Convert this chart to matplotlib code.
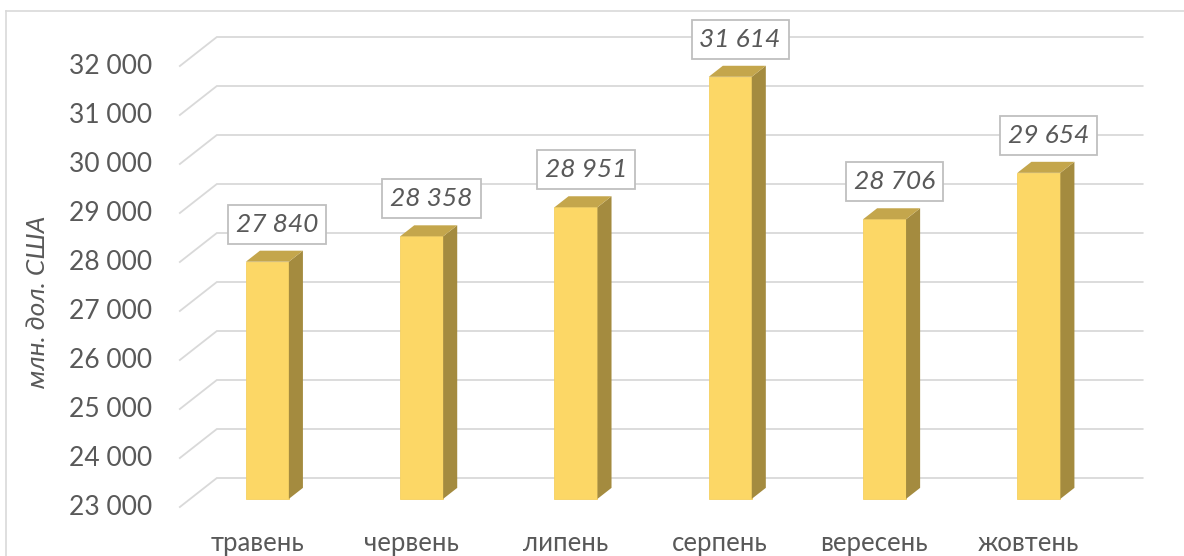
import matplotlib.pyplot as plt
from matplotlib.patches import Polygon
from matplotlib.lines import Line2D

# дані
months = ['травень', 'червень', 'липень', 'серпень', 'вересень', 'жовтень']
values = [27840, 28358, 28951, 31614, 28706, 29654]
y_ticks = [23000, 24000, 25000, 26000, 27000, 28000, 29000, 30000, 31000, 32000]
y_label = 'млн. дол. США'

plt.rcParams['font.family'] = ['Lato', 'Open Sans', 'DejaVu Sans']

fig = plt.figure(figsize=(11.84, 5.56), dpi=100)
ax = fig.add_axes([0, 0, 1, 1])
ax.set_xlim(-1.6656, 6.0078)
ax.set_ylim(22000, 33347)
ax.axis('off')

# глибина псевдо-3D (передня площина -> задня стінка)
DX = 0.2398
DY = 592
d_front, d_back = 0.28, 0.66
bar_w = 0.2787
base = y_ticks[0]
grid_c = '#D9D9D9'
text_c = '#595959'

def pt(x, v, d):
    return (x + d * DX, v + d * DY)

# сітка: діагональ ліворуч + горизонталь на задній стінці
for v in y_ticks:
    p0 = pt(-0.5, v, 0)
    p1 = pt(-0.5, v, 1)
    p2 = pt(5.5, v, 1)
    ax.plot([p0[0], p1[0], p2[0]], [p0[1], p1[1], p2[1]], color=grid_c, lw=1.3, zorder=1,
            solid_joinstyle='miter')
    ax.text(-0.5 - 0.18, v, f'{v:,}'.replace(',', ' '), ha='right', va='center',
            fontsize=19, color=text_c)

# стовпці
for i, v in enumerate(values):
    xl = i + d_front * DX - bar_w / 2
    xr = xl + bar_w
    ax.bar(xl + bar_w / 2, v - base, bottom=base + d_front * DY, width=bar_w,
           color='#FCD766', edgecolor='#F5D060', lw=0.6, zorder=3)
    side = [(xr, base + d_front * DY), (xr, v + d_front * DY),
            (xr + (d_back - d_front) * DX, v + d_back * DY),
            (xr + (d_back - d_front) * DX, base + d_back * DY)]
    ax.add_patch(Polygon(side, closed=True, facecolor='#A48B3F', edgecolor='none', zorder=3))
    top = [(xl, v + d_front * DY), (xr, v + d_front * DY),
           (xr + (d_back - d_front) * DX, v + d_back * DY),
           (xl + (d_back - d_front) * DX, v + d_back * DY)]
    ax.add_patch(Polygon(top, closed=True, facecolor='#C4A64C', edgecolor='none', zorder=3))

    cx, cy = pt(i, v, (d_front + d_back) / 2)
    ax.annotate(f'{v:,}'.replace(',', ' '), xy=(cx, cy), xytext=(2, 23),
                textcoords='offset points', ha='center', va='center',
                fontsize=19, style='italic', color=text_c, zorder=5,
                bbox=dict(boxstyle='square,pad=0.3', fc='white', ec='#BFBFBF', lw=1.3))

    ax.annotate(months[i], xy=(i, base), xytext=(0, -26), textcoords='offset points',
                ha='center', va='center', fontsize=18.5, color=text_c)

fig.text(38 / 1184, 1 - 302 / 556, y_label, rotation=90, ha='center', va='center',
         fontsize=19, style='italic', color=text_c)

# рамка області діаграми
fig.add_artist(Line2D([6 / 1184, 6 / 1184], [0, 1 - 11 / 556], color=grid_c, lw=1.2,
                      transform=fig.transFigure))
fig.add_artist(Line2D([6 / 1184, 1], [1 - 11 / 556, 1 - 11 / 556], color=grid_c, lw=1.2,
                      transform=fig.transFigure))

fig.savefig('out.png', dpi=100)
